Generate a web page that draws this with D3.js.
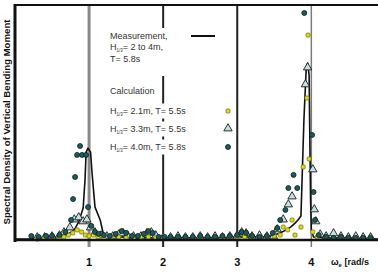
<!DOCTYPE html>
<html><head><meta charset="utf-8">
<script src="https://cdn.jsdelivr.net/npm/d3@7"></script>
<style>html,body{margin:0;padding:0;background:#fff;}svg{display:block;font-family:"Liberation Sans",Arial,sans-serif;}</style>
</head><body><svg id="c" width="378" height="275"></svg>
<script>
// ---- data (relative spectral density, arbitrary units) ----
const xTicks = [1, 2, 3, 4];
const xLabel = "ω";
const yLabel = "Spectral Density of Vertical Bending Moment";

// Measurement, H1/3 = 2 to 4 m, T = 5.8 s
const measOmega = [0.00,0.20,0.40,0.55,0.65,0.72,0.80,0.86,0.92,0.945,0.96,0.985,1.02,1.04,1.08,1.15,1.19,1.25,1.40,1.60,1.80,2.00,2.40,2.80,3.00,3.20,3.40,3.50,3.58,3.66,3.72,3.78,3.82,3.86,3.875,3.90,3.93,3.95,3.97,3.98,3.99,4.00,4.03,4.20,4.90];
const measValue = [0.04,0.04,0.09,0.13,0.17,0.26,0.43,0.77,1.36,2.55,3.74,3.91,3.74,2.85,1.40,0.85,0.30,0.17,0.13,0.13,0.09,0.09,0.09,0.09,0.13,0.13,0.13,0.21,0.30,0.43,0.55,0.72,0.85,1.02,2.55,5.11,7.23,7.53,7.02,4.26,1.70,0.43,0.13,0.09,0.04];

// Calculation H1/3 = 2.1 m, T = 5.5 s
const calc21Omega = [0.30,0.40,0.50,0.60,0.66,0.72,0.78,0.84,0.90,0.95,1.00,1.06,1.12,1.20,1.30,1.40,1.50,1.60,1.70,1.80,1.90,2.00,2.10,2.20,2.30,2.40,2.50,2.60,2.70,2.80,2.90,3.00,3.10,3.20,3.30,3.40,3.50,3.58,3.62,3.68,3.74,3.78,3.86,3.89,3.94,3.955,3.97,4.02,4.08,4.20,4.30,4.40,4.50,4.60,4.70,4.80];
const calc21Value = [0.04,0.09,0.09,0.13,0.13,0.21,0.30,0.43,0.34,0.21,0.17,0.21,0.13,0.09,0.13,0.13,0.09,0.09,0.13,0.13,0.09,0.09,0.09,0.09,0.13,0.09,0.09,0.13,0.09,0.09,0.09,0.13,0.13,0.09,0.13,0.13,0.17,0.21,0.55,0.43,0.85,0.21,0.55,3.11,6.04,8.72,3.45,0.34,0.13,0.09,0.09,0.13,0.09,0.09,0.09,0.13];

// Calculation H1/3 = 3.3 m, T = 5.5 s
const calc33Omega = [0.30,0.40,0.50,0.60,0.66,0.74,0.80,0.86,0.92,0.97,1.02,1.08,1.16,1.24,1.32,1.40,1.46,1.52,1.60,1.70,1.78,1.84,1.90,2.00,2.10,2.20,2.30,2.40,2.50,2.60,2.70,2.80,2.90,3.00,3.06,3.12,3.20,3.30,3.40,3.49,3.54,3.62,3.69,3.74,3.92,3.95,4.02,4.04,4.06,4.12,4.20,4.30,4.40,4.50,4.60,4.70,4.80];
const calc33Value = [0.09,0.09,0.13,0.17,0.30,0.51,0.85,0.94,0.77,0.85,0.51,0.30,0.17,0.13,0.13,0.21,0.26,0.17,0.13,0.13,0.26,0.30,0.17,0.09,0.09,0.13,0.09,0.09,0.13,0.09,0.13,0.09,0.13,0.17,0.30,0.26,0.13,0.17,0.13,0.13,0.43,0.85,1.49,1.83,6.60,7.32,2.98,1.28,0.77,0.21,0.13,0.26,0.13,0.09,0.13,0.09,0.09];

// Calculation H1/3 = 4.0 m, T = 5.8 s
const calc40Omega = [0.22,0.32,0.42,0.50,0.60,0.68,0.757,0.784,0.811,0.838,0.878,0.905,0.959,0.986,1.03,1.08,1.13,1.20,1.28,1.36,1.44,1.50,1.58,1.66,1.74,1.80,1.86,1.94,2.02,2.10,2.20,2.30,2.40,2.50,2.60,2.70,2.80,2.90,3.00,3.06,3.12,3.20,3.30,3.40,3.48,3.54,3.58,3.65,3.69,3.76,3.81,3.905,4.01,4.03,4.05,4.10,4.20,4.30,4.40,4.50,4.60,4.70,4.80];
const calc40Value = [0.17,0.13,0.17,0.17,0.21,0.34,0.85,1.74,2.68,3.62,4.00,3.62,3.62,1.40,0.60,0.34,0.26,0.21,0.17,0.26,0.38,0.30,0.17,0.17,0.26,0.38,0.30,0.13,0.13,0.13,0.13,0.13,0.13,0.17,0.13,0.13,0.17,0.17,0.21,0.34,0.30,0.17,0.13,0.17,0.30,0.51,0.85,1.28,2.21,2.77,2.21,9.66,4.47,2.04,0.85,0.21,0.13,0.09,0.13,0.09,0.09,0.09,0.09];

const legendLines = [
  {kind:"meas", parts:["Measurement,"]},
  {kind:"text", parts:["H","1/3","= 2 to 4m,"]},
  {kind:"text", parts:["T= 5.8s"]},
  {kind:"text", parts:["Calculation"]},
  {kind:"c21", parts:["H","1/3","= 2.1m, T= 5.5s"]},
  {kind:"c33", parts:["H","1/3","= 3.3m, T= 5.5s"]},
  {kind:"c40", parts:["H","1/3","= 4.0m, T= 5.8s"]}
];

// ---- layout ----
const svg = d3.select("#c");
const L = 15, R = 378, T = 5, B = 240;
const x = d3.scaleLinear().domain([0, 4.9]).range([L, R]);
const y = d3.scaleLinear().domain([0, 10]).range([B, T]);

// grid lines at integer frequencies
const gridStyle = {1:{c:"#8a8a8a",w:3},2:{c:"#222",w:2},3:{c:"#222",w:2},4:{c:"#7a7a7a",w:1.5}};
svg.append("g").selectAll("line").data(xTicks).join("line")
  .attr("x1", d=>x(d)).attr("x2", d=>x(d)).attr("y1", T).attr("y2", B+7)
  .attr("stroke", d=>gridStyle[d].c).attr("stroke-width", d=>gridStyle[d].w);

// measurement line
const meas = measOmega.map((o,i)=>[o, measValue[i]]);
svg.append("path").datum(meas)
  .attr("fill","none").attr("stroke","#111").attr("stroke-width",1.6).attr("stroke-linejoin","round")
  .attr("d", d3.line().x(d=>x(d[0])).y(d=>y(d[1])));

// markers
const triSym = d3.symbol().type(d3.symbolTriangle).size(30);
function drawTri(g, data){
  g.selectAll("path").data(data).join("path")
    .attr("transform", d=>`translate(${x(d[0])},${y(d[1])-0.5})`)
    .attr("d", triSym).attr("fill","#c7dfe2").attr("stroke","#1a1a1a").attr("stroke-width",0.9);
}
function drawSq(g, data){
  g.selectAll("rect").data(data).join("rect")
    .attr("x", d=>x(d[0])-2).attr("y", d=>y(d[1])-2).attr("width",4).attr("height",4).attr("rx",1)
    .attr("fill","#dada1a").attr("stroke","#6e6e00").attr("stroke-width",0.7);
}
function drawCirc(g, data){
  g.selectAll("circle").data(data).join("circle")
    .attr("cx", d=>x(d[0])).attr("cy", d=>y(d[1])).attr("r",2.5)
    .attr("fill","#1f5a5a").attr("stroke","#0b1e1e").attr("stroke-width",0.8);
}
drawTri(svg.append("g"), calc33Omega.map((o,i)=>[o, calc33Value[i]]));
drawSq(svg.append("g"), calc21Omega.map((o,i)=>[o, calc21Value[i]]));
drawCirc(svg.append("g"), calc40Omega.map((o,i)=>[o, calc40Value[i]]));

// frame: top, left, bottom
svg.append("line").attr("x1",L).attr("x2",R).attr("y1",T).attr("y2",T).attr("stroke","#111").attr("stroke-width",2);
svg.append("line").attr("x1",L).attr("x2",L).attr("y1",T-1).attr("y2",B+2).attr("stroke","#111").attr("stroke-width",3);
svg.append("line").attr("x1",L).attr("x2",R).attr("y1",B).attr("y2",B).attr("stroke","#111").attr("stroke-width",2.5);

// x tick labels
svg.append("g").selectAll("text").data(xTicks).join("text")
  .attr("x", d=>x(d)).attr("y", 266).attr("text-anchor","middle")
  .attr("font-size", 11).attr("font-weight","bold").attr("fill","#111").text(d=>d);

// x axis label
const xl = svg.append("text").attr("x", 331).attr("y", 265).attr("font-size", 9).attr("font-weight","bold").attr("fill","#111");
xl.append("tspan").text(xLabel);
xl.append("tspan").attr("font-size",6).attr("dy",2).text("e");
xl.append("tspan").attr("dy",-2).text(" [rad/s");

// y axis label
svg.append("text").attr("transform","translate(10,122) rotate(-90)")
  .attr("text-anchor","middle").attr("font-size",8.5).attr("font-weight","bold").attr("fill","#111")
  .attr("textLength",205).attr("lengthAdjust","spacingAndGlyphs").text(yLabel);

// legend
const lg = svg.append("g");
const lineY = [36, 47, 59, 91, 111, 129, 147];
// measurement block background
lg.append("rect").attr("x",107).attr("y",28).attr("width",80).attr("height",48).attr("fill","#fff");
legendLines.forEach((ln, i)=>{
  const yy = lineY[i];
  const t = lg.append("text").attr("x",110).attr("y",yy+3).attr("font-size",9).attr("fill","#333");
  if (ln.parts.length === 1) t.append("tspan").text(ln.parts[0]);
  else {
    t.append("tspan").text(ln.parts[0]);
    t.append("tspan").attr("font-size",4.5).attr("dy",1.5).text(ln.parts[1]);
    t.append("tspan").attr("dy",-1.5).text(ln.parts[2]);
  }
  const bb = t.node().getBBox();
  lg.insert("rect", "text").attr("x",bb.x-3).attr("y",yy-7.5).attr("width",bb.width+6).attr("height",15).attr("fill","#fff");
});
lg.append("line").attr("x1",191).attr("x2",215).attr("y1",36).attr("y2",36).attr("stroke","#111").attr("stroke-width",2);
drawSq(lg.append("g"), [[x.invert(228), y.invert(111)]]);
drawTri(lg.append("g"), [[x.invert(228), y.invert(129)]]);
drawCirc(lg.append("g"), [[x.invert(228), y.invert(147)]]);
</script></body></html>
